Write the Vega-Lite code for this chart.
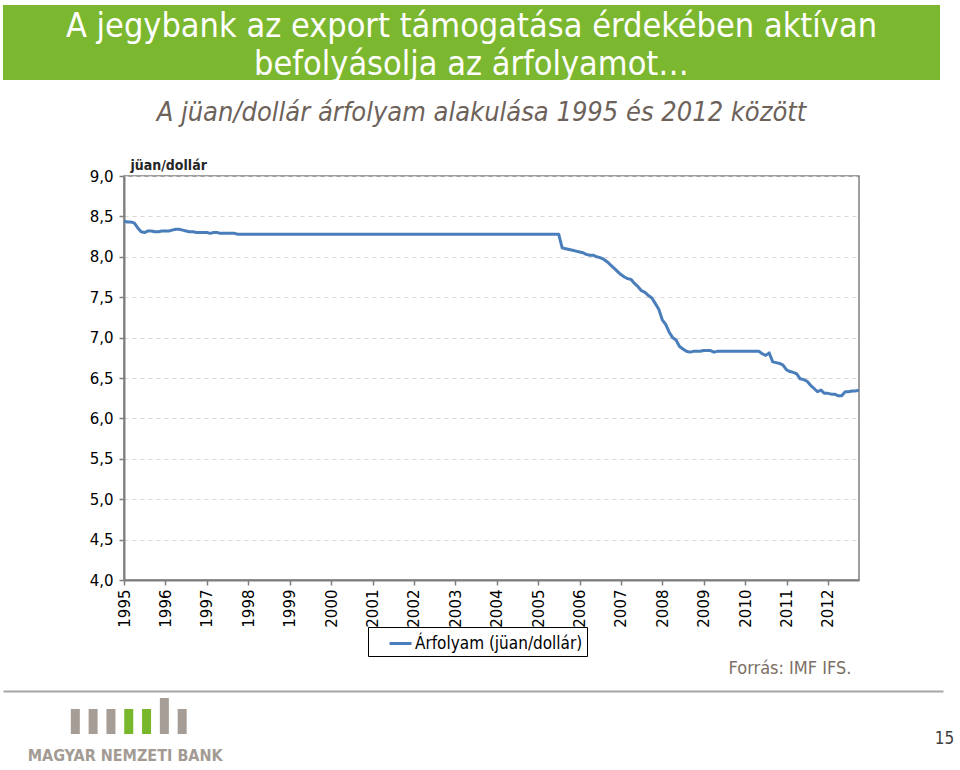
{
  "$schema": "https://vega.github.io/schema/vega-lite/v6.json",
  "padding": {"left": 3, "top": 5, "right": 0, "bottom": 0},
  "spacing": 13,
  "config": {"view": {"stroke": null}, "font": "DejaVu Sans"},
  "resolve": {"scale": {"color": "independent", "x": "independent", "y": "independent"}, "legend": {"color": "independent"}},
  "vconcat": [
    {
      "width": 937,
      "height": 75,
      "view": {"fill": "#7cb82f", "stroke": null},
      "data": {"values": [{"t": "banner"}]},
      "mark": {"type": "text", "color": "white", "fontSize": 34, "font": "DejaVu Sans Condensed", "lineHeight": 38, "baseline": "middle", "align": "center"},
      "encoding": {
        "x": {"datum": 0.5, "type": "quantitative", "scale": {"domain": [0, 1]}, "axis": {"orient": "bottom", "domain": false, "ticks": false, "labels": false, "grid": false, "title": null, "minExtent": 5, "maxExtent": 5}},
        "y": {"datum": 0.707, "type": "quantitative", "scale": {"domain": [0, 1]}, "axis": null},
        "text": {"value": ["A jegybank az export támogatása érdekében aktívan", "befolyásolja az árfolyamot…"]}
      }
    },
    {
      "spacing": 0,
      "hconcat": [
        {
          "width": 1,
          "height": 1,
          "data": {"values": [{"t": "spacer"}]},
          "mark": {"type": "text", "fontSize": 1},
          "encoding": {"text": {"value": ""}}
        },
        {
          "width": 735,
          "height": 404,
          "title": {"text": "A jüan/dollár árfolyam alakulása 1995 és 2012 között", "frame": "group", "anchor": "middle", "dx": -10, "offset": 31, "fontSize": 27, "fontStyle": "italic", "fontWeight": "normal", "color": "#6d625a", "font": "DejaVu Sans Condensed"},
          "view": {"stroke": "#7f7f7f", "strokeWidth": 1.5},
          "data": {"values": [
            {"d": "1995/01/01", "v": 8.44}, {"d": "1995/02/01", "v": 8.43}, {"d": "1995/03/01", "v": 8.43}, {"d": "1995/04/01", "v": 8.42}, {"d": "1995/05/01", "v": 8.36}, {"d": "1995/06/01", "v": 8.31}, {"d": "1995/07/01", "v": 8.30}, {"d": "1995/08/01", "v": 8.32}, {"d": "1995/09/01", "v": 8.32}, {"d": "1995/10/01", "v": 8.31}, {"d": "1995/11/01", "v": 8.31}, {"d": "1995/12/01", "v": 8.32},
            {"d": "1996/01/01", "v": 8.32}, {"d": "1996/02/01", "v": 8.32}, {"d": "1996/03/01", "v": 8.33}, {"d": "1996/04/01", "v": 8.34}, {"d": "1996/05/01", "v": 8.34}, {"d": "1996/06/01", "v": 8.33}, {"d": "1996/07/01", "v": 8.32}, {"d": "1996/08/01", "v": 8.31}, {"d": "1996/09/01", "v": 8.31}, {"d": "1996/10/01", "v": 8.30}, {"d": "1996/11/01", "v": 8.30}, {"d": "1996/12/01", "v": 8.30},
            {"d": "1997/01/01", "v": 8.30}, {"d": "1997/02/01", "v": 8.29}, {"d": "1997/03/01", "v": 8.30}, {"d": "1997/04/01", "v": 8.30}, {"d": "1997/05/01", "v": 8.29}, {"d": "1997/06/01", "v": 8.29}, {"d": "1997/07/01", "v": 8.29}, {"d": "1997/08/01", "v": 8.29}, {"d": "1997/09/01", "v": 8.29}, {"d": "1997/10/01", "v": 8.28}, {"d": "1997/11/01", "v": 8.28}, {"d": "1997/12/01", "v": 8.28},
            {"d": "1998/01/01", "v": 8.28}, {"d": "1998/02/01", "v": 8.28}, {"d": "1998/03/01", "v": 8.28}, {"d": "1998/04/01", "v": 8.28}, {"d": "1998/05/01", "v": 8.28}, {"d": "1998/06/01", "v": 8.28}, {"d": "1998/07/01", "v": 8.28}, {"d": "1998/08/01", "v": 8.28}, {"d": "1998/09/01", "v": 8.28}, {"d": "1998/10/01", "v": 8.28}, {"d": "1998/11/01", "v": 8.28}, {"d": "1998/12/01", "v": 8.28},
            {"d": "1999/01/01", "v": 8.28}, {"d": "1999/02/01", "v": 8.28}, {"d": "1999/03/01", "v": 8.28}, {"d": "1999/04/01", "v": 8.28}, {"d": "1999/05/01", "v": 8.28}, {"d": "1999/06/01", "v": 8.28}, {"d": "1999/07/01", "v": 8.28}, {"d": "1999/08/01", "v": 8.28}, {"d": "1999/09/01", "v": 8.28}, {"d": "1999/10/01", "v": 8.28}, {"d": "1999/11/01", "v": 8.28}, {"d": "1999/12/01", "v": 8.28},
            {"d": "2000/01/01", "v": 8.28}, {"d": "2000/02/01", "v": 8.28}, {"d": "2000/03/01", "v": 8.28}, {"d": "2000/04/01", "v": 8.28}, {"d": "2000/05/01", "v": 8.28}, {"d": "2000/06/01", "v": 8.28}, {"d": "2000/07/01", "v": 8.28}, {"d": "2000/08/01", "v": 8.28}, {"d": "2000/09/01", "v": 8.28}, {"d": "2000/10/01", "v": 8.28}, {"d": "2000/11/01", "v": 8.28}, {"d": "2000/12/01", "v": 8.28},
            {"d": "2001/01/01", "v": 8.28}, {"d": "2001/02/01", "v": 8.28}, {"d": "2001/03/01", "v": 8.28}, {"d": "2001/04/01", "v": 8.28}, {"d": "2001/05/01", "v": 8.28}, {"d": "2001/06/01", "v": 8.28}, {"d": "2001/07/01", "v": 8.28}, {"d": "2001/08/01", "v": 8.28}, {"d": "2001/09/01", "v": 8.28}, {"d": "2001/10/01", "v": 8.28}, {"d": "2001/11/01", "v": 8.28}, {"d": "2001/12/01", "v": 8.28},
            {"d": "2002/01/01", "v": 8.28}, {"d": "2002/02/01", "v": 8.28}, {"d": "2002/03/01", "v": 8.28}, {"d": "2002/04/01", "v": 8.28}, {"d": "2002/05/01", "v": 8.28}, {"d": "2002/06/01", "v": 8.28}, {"d": "2002/07/01", "v": 8.28}, {"d": "2002/08/01", "v": 8.28}, {"d": "2002/09/01", "v": 8.28}, {"d": "2002/10/01", "v": 8.28}, {"d": "2002/11/01", "v": 8.28}, {"d": "2002/12/01", "v": 8.28},
            {"d": "2003/01/01", "v": 8.28}, {"d": "2003/02/01", "v": 8.28}, {"d": "2003/03/01", "v": 8.28}, {"d": "2003/04/01", "v": 8.28}, {"d": "2003/05/01", "v": 8.28}, {"d": "2003/06/01", "v": 8.28}, {"d": "2003/07/01", "v": 8.28}, {"d": "2003/08/01", "v": 8.28}, {"d": "2003/09/01", "v": 8.28}, {"d": "2003/10/01", "v": 8.28}, {"d": "2003/11/01", "v": 8.28}, {"d": "2003/12/01", "v": 8.28},
            {"d": "2004/01/01", "v": 8.28}, {"d": "2004/02/01", "v": 8.28}, {"d": "2004/03/01", "v": 8.28}, {"d": "2004/04/01", "v": 8.28}, {"d": "2004/05/01", "v": 8.28}, {"d": "2004/06/01", "v": 8.28}, {"d": "2004/07/01", "v": 8.28}, {"d": "2004/08/01", "v": 8.28}, {"d": "2004/09/01", "v": 8.28}, {"d": "2004/10/01", "v": 8.28}, {"d": "2004/11/01", "v": 8.28}, {"d": "2004/12/01", "v": 8.28},
            {"d": "2005/01/01", "v": 8.28}, {"d": "2005/02/01", "v": 8.28}, {"d": "2005/03/01", "v": 8.28}, {"d": "2005/04/01", "v": 8.28}, {"d": "2005/05/01", "v": 8.28}, {"d": "2005/06/01", "v": 8.28}, {"d": "2005/07/01", "v": 8.28}, {"d": "2005/08/01", "v": 8.11}, {"d": "2005/09/01", "v": 8.10}, {"d": "2005/10/01", "v": 8.09}, {"d": "2005/11/01", "v": 8.08}, {"d": "2005/12/01", "v": 8.07},
            {"d": "2006/01/01", "v": 8.06}, {"d": "2006/02/01", "v": 8.05}, {"d": "2006/03/01", "v": 8.03}, {"d": "2006/04/01", "v": 8.02}, {"d": "2006/05/01", "v": 8.02}, {"d": "2006/06/01", "v": 8.00}, {"d": "2006/07/01", "v": 7.99}, {"d": "2006/08/01", "v": 7.97}, {"d": "2006/09/01", "v": 7.94}, {"d": "2006/10/01", "v": 7.90}, {"d": "2006/11/01", "v": 7.86}, {"d": "2006/12/01", "v": 7.82},
            {"d": "2007/01/01", "v": 7.78}, {"d": "2007/02/01", "v": 7.75}, {"d": "2007/03/01", "v": 7.73}, {"d": "2007/04/01", "v": 7.72}, {"d": "2007/05/01", "v": 7.67}, {"d": "2007/06/01", "v": 7.63}, {"d": "2007/07/01", "v": 7.58}, {"d": "2007/08/01", "v": 7.56}, {"d": "2007/09/01", "v": 7.52}, {"d": "2007/10/01", "v": 7.49}, {"d": "2007/11/01", "v": 7.42}, {"d": "2007/12/01", "v": 7.35},
            {"d": "2008/01/01", "v": 7.22}, {"d": "2008/02/01", "v": 7.16}, {"d": "2008/03/01", "v": 7.07}, {"d": "2008/04/01", "v": 7.00}, {"d": "2008/05/01", "v": 6.97}, {"d": "2008/06/01", "v": 6.89}, {"d": "2008/07/01", "v": 6.86}, {"d": "2008/08/01", "v": 6.83}, {"d": "2008/09/01", "v": 6.82}, {"d": "2008/10/01", "v": 6.83}, {"d": "2008/11/01", "v": 6.83}, {"d": "2008/12/01", "v": 6.83},
            {"d": "2009/01/01", "v": 6.84}, {"d": "2009/02/01", "v": 6.84}, {"d": "2009/03/01", "v": 6.84}, {"d": "2009/04/01", "v": 6.82}, {"d": "2009/05/01", "v": 6.83}, {"d": "2009/06/01", "v": 6.83}, {"d": "2009/07/01", "v": 6.83}, {"d": "2009/08/01", "v": 6.83}, {"d": "2009/09/01", "v": 6.83}, {"d": "2009/10/01", "v": 6.83}, {"d": "2009/11/01", "v": 6.83}, {"d": "2009/12/01", "v": 6.83},
            {"d": "2010/01/01", "v": 6.83}, {"d": "2010/02/01", "v": 6.83}, {"d": "2010/03/01", "v": 6.83}, {"d": "2010/04/01", "v": 6.83}, {"d": "2010/05/01", "v": 6.83}, {"d": "2010/06/01", "v": 6.80}, {"d": "2010/07/01", "v": 6.78}, {"d": "2010/08/01", "v": 6.81}, {"d": "2010/09/01", "v": 6.70}, {"d": "2010/10/01", "v": 6.69}, {"d": "2010/11/01", "v": 6.68}, {"d": "2010/12/01", "v": 6.66},
            {"d": "2011/01/01", "v": 6.60}, {"d": "2011/02/01", "v": 6.58}, {"d": "2011/03/01", "v": 6.57}, {"d": "2011/04/01", "v": 6.55}, {"d": "2011/05/01", "v": 6.49}, {"d": "2011/06/01", "v": 6.48}, {"d": "2011/07/01", "v": 6.46}, {"d": "2011/08/01", "v": 6.41}, {"d": "2011/09/01", "v": 6.37}, {"d": "2011/10/01", "v": 6.33}, {"d": "2011/11/01", "v": 6.35}, {"d": "2011/12/01", "v": 6.31},
            {"d": "2012/01/01", "v": 6.31}, {"d": "2012/02/01", "v": 6.30}, {"d": "2012/03/01", "v": 6.30}, {"d": "2012/04/01", "v": 6.28}, {"d": "2012/05/01", "v": 6.28}, {"d": "2012/06/01", "v": 6.33}, {"d": "2012/07/01", "v": 6.33}, {"d": "2012/08/01", "v": 6.34}, {"d": "2012/09/01", "v": 6.34}, {"d": "2012/10/01", "v": 6.35}
          ]},
          "mark": {"type": "line", "strokeWidth": 3, "strokeJoin": "round"},
          "encoding": {
            "x": {
              "field": "d", "type": "temporal",
              "scale": {"domain": [{"year": 1995, "month": 1, "date": 1}, {"year": 2012, "month": 10, "date": 1}]},
              "axis": {"orient": "bottom", "tickCount": {"interval": "year", "step": 1}, "format": "%Y", "labelAngle": -90, "labelAlign": "right", "labelBaseline": "middle", "labelFontSize": 15, "labelColor": "black", "labelPadding": 4, "labelFlush": false, "labelOverlap": false, "tickSize": 5, "tickColor": "#7f7f7f", "tickWidth": 1.5, "domainColor": "#7f7f7f", "domainWidth": 2, "grid": false,
                "title": "Forrás: IMF IFS.", "titleX": 727, "titleY": 88, "titleAlign": "right", "titleBaseline": "middle", "titleFontSize": 18, "titleFontWeight": "normal", "titleColor": "#7b6f66", "titleFont": "DejaVu Sans Condensed"}
            },
            "y": {
              "field": "v", "type": "quantitative",
              "scale": {"domain": [4, 9], "zero": false, "nice": false},
              "axis": {"values": [4, 4.5, 5, 5.5, 6, 6.5, 7, 7.5, 8, 8.5, 9], "labelExpr": "replace(format(datum.value, '.1f'), '.', ',')", "labelFontSize": 15, "labelColor": "black", "labelPadding": 6, "tickSize": 5, "tickColor": "#7f7f7f", "tickWidth": 1.5, "domainColor": "#7f7f7f", "domainWidth": 2, "grid": true, "gridColor": "#dcd4d4", "gridDash": [4, 4], "minExtent": 119, "maxExtent": 119,
                "title": "jüan/dollár", "titleAngle": 0, "titleX": 6, "titleY": -7, "titleAlign": "left", "titleBaseline": "alphabetic", "titleFontSize": 14, "titleFontWeight": "bold", "titleFont": "DejaVu Sans Condensed", "titleColor": "#262626"}
            },
            "color": {
              "datum": "Árfolyam (jüan/dollár)",
              "scale": {"range": ["#4a7ebb"]},
              "legend": {"orient": "none", "legendX": 365, "legendY": 451, "title": null, "strokeColor": "black", "fillColor": "white", "padding": 4, "symbolOffset": 16, "symbolType": "stroke", "symbolStrokeWidth": 3, "symbolSize": 484, "labelFontSize": 17, "labelLimit": 400, "labelFont": "DejaVu Sans Condensed", "labelColor": "black", "labelOffset": 2}
            }
          }
        }
      ]
    },
    {
      "width": 940,
      "height": 80,
      "view": {"stroke": null},
      "layer": [
        {
          "data": {"values": [
            {"pos": 0, "h": 1, "g": "szürke"}, {"pos": 1, "h": 1, "g": "szürke"}, {"pos": 2, "h": 1, "g": "szürke"},
            {"pos": 3, "h": 1, "g": "zöld"}, {"pos": 4, "h": 1, "g": "zöld"},
            {"pos": 5, "h": 1.44, "g": "szürke"}, {"pos": 6, "h": 1, "g": "szürke"}
          ]},
          "mark": {"type": "bar", "width": 9},
          "encoding": {
            "x": {"field": "pos", "type": "quantitative", "scale": {"domain": [-3.78, 48.44], "nice": false, "zero": false}, "axis": {"orient": "top", "domain": true, "domainColor": "#a6a6a6", "domainWidth": 2, "ticks": false, "labels": false, "grid": false, "title": null}},
            "y": {"field": "h", "type": "quantitative", "scale": {"domain": [-1.48, 1.72], "nice": false, "zero": false}, "axis": null},
            "color": {"field": "g", "type": "nominal", "scale": {"domain": ["szürke", "zöld"], "range": ["#a69e96", "#78b62c"]}, "legend": null}
          }
        },
        {
          "data": {"values": [{"t": "logo"}]},
          "mark": {"type": "text", "fontSize": 16, "fontWeight": "bold", "font": "DejaVu Sans Condensed", "color": "#a39b93", "align": "center", "baseline": "middle"},
          "encoding": {
            "x": {"datum": 2.8, "type": "quantitative"},
            "y": {"datum": -0.88, "type": "quantitative"},
            "text": {"value": "MAGYAR NEMZETI BANK"}
          }
        },
        {
          "data": {"values": [{"t": "page"}]},
          "mark": {"type": "text", "fontSize": 17, "font": "DejaVu Sans Condensed", "color": "#404040", "align": "center", "baseline": "middle"},
          "encoding": {
            "x": {"datum": 48.8, "type": "quantitative"},
            "y": {"datum": -0.2, "type": "quantitative"},
            "text": {"value": "15"}
          }
        }
      ]
    }
  ]
}
